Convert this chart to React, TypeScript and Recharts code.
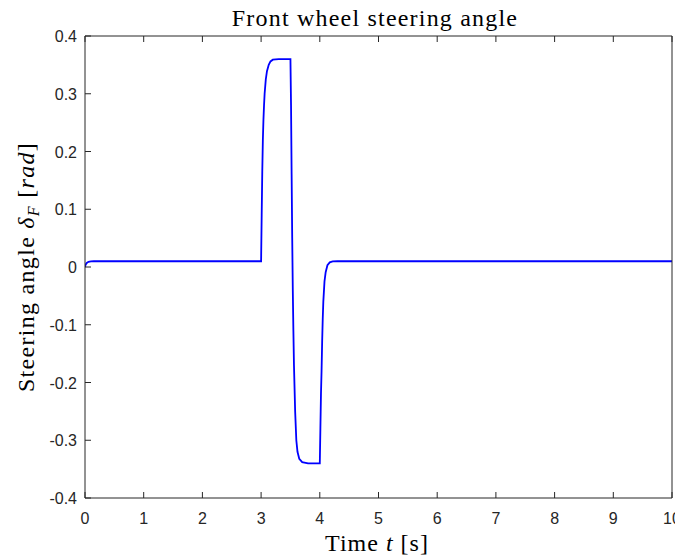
import React from "react";
import { LineChart, Line, XAxis, YAxis } from "recharts";

// Time samples [s] and front wheel steering angle [rad]
const timeS: number[] = [
  0, 0.01, 0.03, 0.06, 0.1, 0.15,
  3.0, 3.01, 3.02, 3.03, 3.04, 3.05, 3.06, 3.08, 3.1, 3.13, 3.16, 3.2, 3.3,
  3.5, 3.51, 3.52, 3.53, 3.54, 3.55, 3.56, 3.58, 3.6, 3.62, 3.65, 3.7, 3.8,
  4.0, 4.01, 4.02, 4.03, 4.04, 4.05, 4.06, 4.08, 4.1, 4.13, 4.17, 4.22, 4.3,
  10,
];
const steerRad: number[] = [
  0, 0.004, 0.007, 0.009, 0.0098, 0.01,
  0.01, 0.09, 0.165, 0.22, 0.255, 0.28, 0.3, 0.325, 0.339, 0.35, 0.356, 0.359, 0.36,
  0.36, 0.28, 0.16, 0.05, -0.04, -0.11, -0.17, -0.25, -0.3, -0.32, -0.332, -0.338, -0.34,
  -0.34, -0.28, -0.22, -0.18, -0.13, -0.09, -0.06, -0.025, -0.009, 0.003, 0.008, 0.0097, 0.01,
  0.01,
];
const xTicks: number[] = [0, 1, 2, 3, 4, 5, 6, 7, 8, 9, 10];
const yTicks: number[] = [-0.4, -0.3, -0.2, -0.1, 0, 0.1, 0.2, 0.3, 0.4];

const data = timeS.map((t, i) => ({ t, delta: steerRad[i] }));

const AX = "#262626";
const W = 675;
const H = 552;
const TL = 6;
const TICK_FONT = { fontFamily: "Liberation Sans", fontSize: 16 };

const fmtY = (v: number) => String(Number(v.toFixed(1)));

const BottomTick = (p: any) => (
  <g>
    <line x1={p.x} y1={p.y} x2={p.x} y2={p.y - TL} stroke={AX} strokeWidth={1} />
    <text x={p.x} y={p.y + 26} textAnchor="middle" fill={AX} {...TICK_FONT}>
      {String(p.payload.value)}
    </text>
  </g>
);
const TopTick = (p: any) => (
  <line x1={p.x} y1={p.y} x2={p.x} y2={p.y + TL} stroke={AX} strokeWidth={1} />
);
const LeftTick = (p: any) => (
  <g>
    <line x1={p.x} y1={p.y} x2={p.x + TL} y2={p.y} stroke={AX} strokeWidth={1} />
    <text x={p.x - 8} y={p.y + 6} textAnchor="end" fill={AX} {...TICK_FONT}>
      {fmtY(p.payload.value)}
    </text>
  </g>
);
const RightTick = (p: any) => (
  <line x1={p.x} y1={p.y} x2={p.x - TL} y2={p.y} stroke={AX} strokeWidth={1} />
);

export default function App() {
  return (
    <div style={{ position: "relative", width: W, height: H }}>
      <LineChart
        width={W}
        height={H}
        data={data}
        margin={{ top: 27, right: 10, bottom: 32, left: 37 }}
      >
        <XAxis
          xAxisId="b"
          dataKey="t"
          type="number"
          domain={[0, 10]}
          ticks={xTicks}
          interval={0}
          allowDataOverflow
          height={30}
          tickSize={0}
          tickMargin={0}
          tickLine={false}
          stroke={AX}
          tick={BottomTick}
        />
        <XAxis
          xAxisId="t"
          dataKey="t"
          type="number"
          orientation="top"
          domain={[0, 10]}
          ticks={xTicks}
          interval={0}
          height={1}
          tickSize={0}
          tickMargin={0}
          tickLine={false}
          stroke={AX}
          tick={TopTick}
        />
        <YAxis
          yAxisId="l"
          type="number"
          domain={[-0.4, 0.4]}
          ticks={yTicks}
          interval={0}
          width={40}
          tickSize={0}
          tickMargin={0}
          tickLine={false}
          stroke={AX}
          tick={LeftTick}
        />
        <YAxis
          yAxisId="r"
          type="number"
          orientation="right"
          domain={[-0.4, 0.4]}
          ticks={yTicks}
          interval={0}
          width={1}
          tickSize={0}
          tickMargin={0}
          tickLine={false}
          stroke={AX}
          tick={RightTick}
        />
        <Line
          xAxisId="b"
          yAxisId="l"
          dataKey="delta"
          type="linear"
          stroke="#0000ff"
          strokeWidth={1.8}
          dot={false}
          isAnimationActive={false}
        />
      </LineChart>
      <svg
        width={W}
        height={H}
        style={{ position: "absolute", left: 0, top: 0, pointerEvents: "none", overflow: "visible" }}
      >
        <text
          x={367}
          y={18}
          textAnchor="middle"
          fontFamily="Liberation Serif"
          fontSize={24}
          letterSpacing={1.2}
          fill="#000"
        >
          Front wheel steering angle
        </text>
        <text
          x={369}
          y={543}
          textAnchor="middle"
          fontFamily="Liberation Serif"
          fontSize={24}
          letterSpacing={1}
          fill="#000"
        >
          Time <tspan fontStyle="italic">t</tspan> [s]
        </text>
        <text
          transform="translate(26,259) rotate(-90)"
          textAnchor="middle"
          fontFamily="Liberation Serif"
          fontSize={24}
          letterSpacing={1.3}
          fill="#000"
        >
          Steering angle <tspan fontStyle="italic">δ</tspan>
          <tspan fontStyle="italic" fontSize={16} dy={5}>F</tspan>
          <tspan dy={-5}> [</tspan>
          <tspan fontStyle="italic">rad</tspan>]
        </text>
      </svg>
    </div>
  );
}
